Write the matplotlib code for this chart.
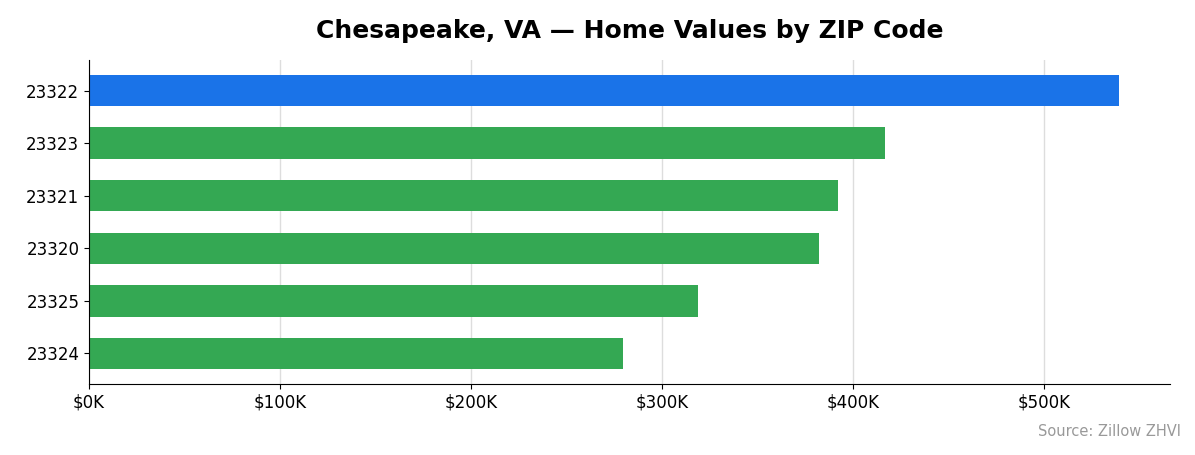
import matplotlib
matplotlib.use("Agg")
import matplotlib.pyplot as plt
from matplotlib.ticker import FuncFormatter

zips = ["23322", "23323", "23321", "23320", "23325", "23324"]
values = [539000, 417000, 392000, 382000, 319000, 279500]
colors = ["#1a73e8"] + ["#34a853"] * 5

fig = plt.figure(figsize=(11.95, 4.55), dpi=100)
ax = fig.add_axes([89/1195, 1-384/455, (1170-89)/1195, (384-60)/455])
ypos = list(range(len(zips)))[::-1]
ax.barh(ypos, values, height=0.6, color=colors, zorder=2)
ax.set_yticks(ypos)
ax.set_yticklabels(zips, fontsize=12)
ax.set_xlim(0, max(values) * 1.05)
ax.set_xticks([0, 100000, 200000, 300000, 400000, 500000])
ax.xaxis.set_major_formatter(FuncFormatter(lambda v, p: f"${v/1000:.0f}K"))
ax.tick_params(axis="x", labelsize=12)
ax.grid(axis="x", color="#dddddd", linewidth=1, zorder=0)
ax.spines["top"].set_visible(False)
ax.spines["right"].set_visible(False)
ax.set_title("Chesapeake, VA — Home Values by ZIP Code", fontsize=18, fontweight="bold", pad=16)
fig.text(1181/1195, 1-432/455, "Source: Zillow ZHVI", ha="right", va="center", fontsize=10.5, color="#999999")
fig.savefig("out.png", dpi=100)
